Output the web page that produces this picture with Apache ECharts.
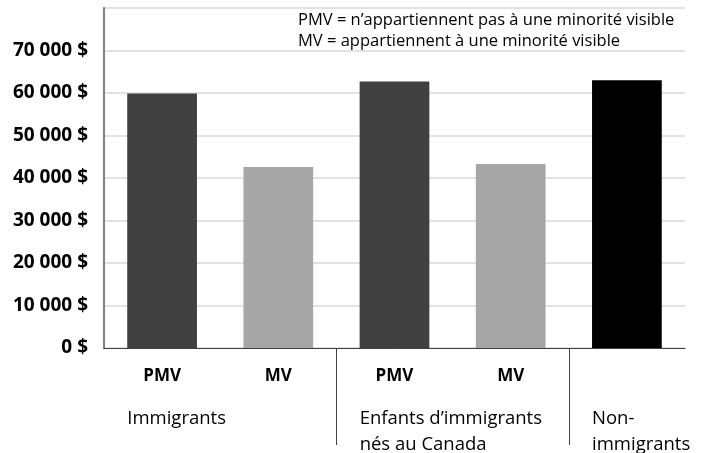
<!DOCTYPE html>
<html>
<head>
<meta charset="utf-8">
<script src="https://cdn.jsdelivr.net/npm/echarts@6/dist/echarts.min.js"></script>
<style>
  html, body { margin: 0; padding: 0; background: #fff; }
  #main { width: 704px; height: 453px; }
</style>
</head>
<body>
<div id="main"></div>
<script>
// catégories et valeurs (revenu, $)
const categories = ['PMV', 'MV', 'PMV', 'MV', ''];
const values = [59900, 42600, 62700, 43300, 63000];
const barColors = ['#404040', '#a6a6a6', '#404040', '#a6a6a6', '#000000'];
// groupes : premier index, libellé
const groupStarts = [0, 2, 4];
const groupLabels = [['Immigrants'], ['Enfants d\u2019immigrants', 'nés au Canada'], ['Non-', 'immigrants']];
const separators = [2, 4];
const legendLines = [
  'PMV = n\u2019appartiennent pas à une minorité visible',
  'MV = appartiennent à une minorité visible'
];

const FONT = '"Open Sans", "Noto Sans", sans-serif';
const chart = echarts.init(document.getElementById('main'));

function fmtMoney(v) {
  return String(v).replace(/\B(?=(\d{3})+(?!\d))/g, ' ') + ' $';
}

chart.setOption({
  animation: false,
  grid: { left: 104, right: 19, top: 8, bottom: 105 },
  xAxis: {
    type: 'category',
    data: categories,
    axisLine: { lineStyle: { color: '#404040', width: 1 } },
    axisTick: { show: false },
    axisLabel: {
      margin: 20,
      color: '#000',
      fontFamily: FONT,
      fontWeight: 'bold',
      fontSize: 17
    }
  },
  yAxis: {
    type: 'value',
    min: 0,
    max: 80000,
    interval: 10000,
    axisLine: { show: true, lineStyle: { color: '#808080', width: 2 } },
    axisTick: { show: false },
    splitLine: { lineStyle: { color: '#d9d9d9', width: 1.5 } },
    axisLabel: {
      margin: 16,
      color: '#000',
      fontFamily: FONT,
      fontWeight: 'bold',
      fontSize: 19,
      formatter: v => (v === 80000 ? '' : fmtMoney(v))
    }
  },
  series: [{
    type: 'bar',
    barWidth: '60%',
    data: values.map((v, i) => ({ value: v, itemStyle: { color: barColors[i] } }))
  }]
});

// textes et séparateurs, positionnés à partir des axes
function drawExtras() {
  const y0 = chart.convertToPixel({ yAxisIndex: 0 }, 0);
  const step = chart.convertToPixel({ xAxisIndex: 0 }, 1) - chart.convertToPixel({ xAxisIndex: 0 }, 0);
  const halfBar = step * 0.3;
  const elements = [];

  groupStarts.forEach((idx, g) => {
    const cx = chart.convertToPixel({ xAxisIndex: 0 }, idx);
    groupLabels[g].forEach((t, k) => {
      elements.push({
        type: 'text',
        x: cx - halfBar,
        y: y0 + 71 + k * 26,
        style: {
          text: t,
          fontFamily: FONT,
          fontSize: 18.5,
          fill: '#000',
          verticalAlign: 'middle'
        }
      });
    });
  });

  separators.forEach(idx => {
    const x = Math.round(chart.convertToPixel({ xAxisIndex: 0 }, idx) - step / 2) + 0.5;
    elements.push({
      type: 'line',
      shape: { x1: x, y1: y0, x2: x, y2: y0 + 97 },
      style: { stroke: '#404040', lineWidth: 1 }
    });
  });

  legendLines.forEach((t, i) => {
    elements.push({
      type: 'text',
      x: 298,
      y: 20 + i * 21.5,
      style: { text: t, fontFamily: FONT, fontSize: 16.5, fill: '#000', verticalAlign: 'middle' }
    });
  });

  chart.setOption({ graphic: elements });
}
drawExtras();
</script>
</body>
</html>
